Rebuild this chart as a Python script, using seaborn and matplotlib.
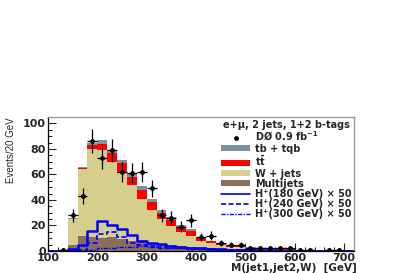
import numpy as np
import pandas as pd
import seaborn as sns
import matplotlib
matplotlib.use("Agg")
import matplotlib.pyplot as plt
from matplotlib.lines import Line2D
from matplotlib.patches import Patch
from matplotlib.ticker import MultipleLocator

# 20 GeV bins from 100 to 720 GeV (lower edges)
bin_low = list(range(100, 720, 20))

# background components, events per bin
multijets = [0, 0, 5, 11.5, 11, 10, 11, 9.7, 7.6, 8.4, 6.5, 5, 5, 4, 3.5, 3, 2.5, 2, 1.8, 1.5,
             1.2, 1, 0.8, 0.7, 0.6, 0.5, 0.4, 0.3, 0.3, 0.2, 0.2]
wjets = [0, 0, 20, 53, 69, 69.5, 59, 51.6, 43.9, 32.4, 25.8, 20.3, 14.8, 10.7, 8, 5, 3.5, 2.5, 1.7, 1.3,
         0.8, 0.7, 0.5, 0.4, 0.3, 0.2, 0.2, 0.2, 0.1, 0.1, 0.1]
ttbar = [0, 0, 0.3, 0.8, 3, 4.5, 7, 7.4, 6.5, 6.8, 5.7, 4.7, 4.2, 4.1, 4, 2, 1.5, 1.5, 1.2, 0.9,
         0.7, 0.6, 0.5, 0.4, 0.4, 0.3, 0.2, 0.15, 0.15, 0.15, 0.1]
tb_tqb = [0, 0, 0.2, 0.3, 1.5, 3, 2.5, 2.3, 3, 3.2, 2.6, 2.5, 2.7, 1.7, 1.5, 1, 0.5, 0.5, 0.3, 0.3,
          0.3, 0.2, 0.2, 0.2, 0.1, 0.1, 0.1, 0.05, 0.05, 0.05, 0.05]

# charged Higgs signals (x 50)
h180 = [0, 0, 1.5, 5, 16, 23.5, 20, 17, 12.3, 7.5, 6.3, 5.5, 4, 3.5, 2.5, 2, 1.5, 1.2, 1, 0.8,
        0.6, 0.5, 0.4, 0.3, 0.3, 0.2, 0.2, 0.1, 0.1, 0.1, 0.1]
h240 = [0, 0, 0, 0.5, 6, 13.6, 15, 11, 6.5, 5, 4, 3.5, 2.5, 2.2, 2, 1.6, 1.2, 1, 0.8, 0.6,
        0.5, 0.4, 0.3, 0.3, 0.2, 0.2, 0.1, 0.1, 0.1, 0.1, 0.1]
h300 = [0, 0, 0, 0, 1, 2, 2.5, 3, 3.5, 4, 3.5, 2.5, 2, 2, 1.8, 1.5, 1.2, 1, 0.8, 0.6,
        0.5, 0.4, 0.3, 0.3, 0.2, 0.2, 0.1, 0.1, 0.1, 0.1, 0.1]

# DØ data, events per bin
data_counts = [0, 1, 28, 43, 86, 73, 79, 62, 61, 62, 49, 28, 26, 19, 24, 11, 12, 6, 5, 5,
               2, 2, 2, 2, 2, 1, 1, 0, 1, 1, 0]

bg_names = ["tb + tqb", r"t$\mathbf{\bar{t}}$", "W + jets", "Multijets"]
bg_colors = ["#7d929e", "#ff0000", "#d6ce8d", "#8c6d5d"]
sig_names = ["H\u207a(180 GeV) \u00d7 50", "H\u207a(240 GeV) \u00d7 50", "H\u207a(300 GeV) \u00d7 50"]
header = "e+\u03bc, 2 jets, 1+2 b-tags"

edges = list(range(100, 740, 20))
centers = [b + 10 for b in bin_low]

bg = pd.concat([
    pd.DataFrame({"m": centers, "w": vals, "proc": name})
    for name, vals in zip(bg_names, [tb_tqb, ttbar, wjets, multijets])
])

sns.set_style("ticks")
plt.rcParams["font.family"] = ["DejaVu Sans"]

fig = plt.figure(figsize=(3.99, 2.73), dpi=100)
ax = fig.add_axes([0.1203, 0.0806, 0.767, 0.489])

sns.histplot(data=bg, x="m", weights="w", hue="proc", hue_order=bg_names,
             palette=dict(zip(bg_names, bg_colors)), bins=edges, multiple="stack",
             element="step", linewidth=0, alpha=1, legend=False, ax=ax)

sig_styles = [("-", 1.8), ((0, (3, 1.5)), 1.2), ((0, (3, 1, 1, 1)), 1.0)]
for vals, (ls, lw) in zip([h180, h240, h300], sig_styles):
    sns.histplot(x=centers, weights=vals, bins=edges, element="step", fill=False,
                 color="#0000ff", linestyle=ls, linewidth=lw, ax=ax)

dx = np.array(centers, dtype=float)
dy = np.array(data_counts, dtype=float)
keep = dy > 0
ax.errorbar(dx[keep], dy[keep], yerr=np.sqrt(dy[keep]), xerr=10, fmt="o", ms=2.5,
            color="black", ecolor="black", elinewidth=0.9, capsize=0, zorder=5)

ax.set_xlim(100, 720)
ax.set_ylim(0, 104.6)
ax.xaxis.set_major_locator(MultipleLocator(100))
ax.xaxis.set_minor_locator(MultipleLocator(20))
ax.yaxis.set_major_locator(MultipleLocator(20))
ax.yaxis.set_minor_locator(MultipleLocator(5))
ax.tick_params(which="both", direction="in", top=False, right=False, width=0.8)
ax.tick_params(which="major", length=6, labelsize=8, pad=1.5)
ax.tick_params(which="minor", length=3)
for lab in ax.get_xticklabels() + ax.get_yticklabels():
    lab.set_fontweight("bold")

for side in ["top", "right"]:
    ax.spines[side].set_color("#9a9a9a")
    ax.spines[side].set_linewidth(1.0)
for side in ["left", "bottom"]:
    ax.spines[side].set_color("black")
    ax.spines[side].set_linewidth(0.9)

ax.set_ylabel("Events/20 GeV", fontsize=7, loc="top",
              family=["Liberation Sans Narrow", "Liberation Sans", "DejaVu Sans"])
ax.yaxis.set_label_coords(-0.105, 1.0)
ax.set_xlabel("M(jet1,jet2,W)  [GeV]", fontsize=7.5, fontweight="bold", loc="right")
ax.xaxis.set_label_coords(1.01, -0.09)
ax.xaxis.label.set_va("top")

handles = [Line2D([], [], marker="o", ms=2.5, color="black", lw=0)]
handles += [Patch(facecolor=c, edgecolor="none") for c in bg_colors]
handles += [Line2D([], [], color="#0000ff", lw=1.2, ls="-"),
            Line2D([], [], color="#0000ff", lw=1.2, ls=(0, (3, 1.5))),
            Line2D([], [], color="#0000ff", lw=1.0, ls=(0, (3, 1, 1, 1)))]
labels = [r"DØ 0.9 fb$^{\mathbf{-1}}$"] + bg_names + sig_names
leg = ax.legend(handles, labels, title=header, loc="upper right", bbox_to_anchor=(1.0, 1.0),
                frameon=False, prop={"size": 7, "weight": "bold"}, handlelength=3.0,
                handleheight=0.55, handletextpad=0.5, labelspacing=0.02, borderaxespad=0.15,
                borderpad=0.1)
leg.get_title().set_fontsize(7)
leg.get_title().set_fontweight("bold")

fig.savefig("out.png", dpi=100)
